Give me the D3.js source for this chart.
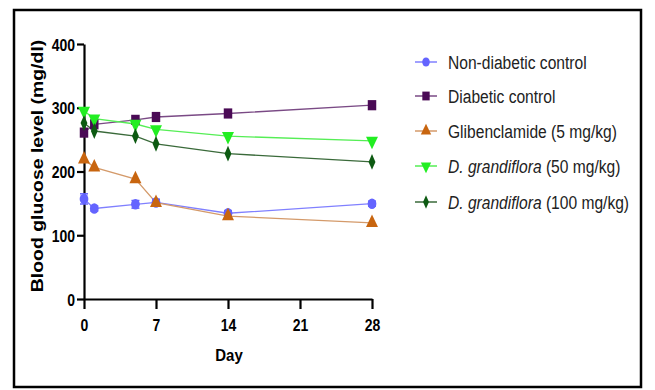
<!DOCTYPE html>
<html>
<head>
<meta charset="utf-8">
<script src="https://cdn.jsdelivr.net/npm/d3@7"></script>
<style>
  body { margin: 0; background: #fff; }
  svg text { font-family: "Liberation Sans", Arial, sans-serif; }
</style>
</head>
<body>
<div id="chart"></div>
<script>
var days = [0, 1, 5, 7, 14, 28];
var nonDiabetic = [157, 142, 148.5, 151.5, 134.5, 149.5];
var nonDiabeticErr = [8, 4, 6, 5, 4, 4];
var diabetic = [261, 274, 281, 285.5, 291, 304];
var glibenclamide = [219, 206.5, 188, 151, 130, 119.5];
var dg50 = [295, 283, 274.5, 266, 255.5, 248];
var dg100 = [276, 263.5, 255.5, 243.5, 228, 215];
var xTicks = [0, 7, 14, 21, 28];
var yTicks = [0, 100, 200, 300, 400];

var series = [
  {name: "Non-diabetic control", values: nonDiabetic, err: nonDiabeticErr, color: "#6464ff", line: "#8080ff", symbol: d3.symbolCircle, size: 60},
  {name: "Diabetic control", values: diabetic, color: "#4a0a55", line: "#7a4a85", symbol: d3.symbolSquare, size: 72},
  {name: "Glibenclamide (5 mg/kg)", values: glibenclamide, color: "#c8650f", line: "#d49a6a", symbol: d3.symbolTriangle, size: 62},
  {italic: "D. grandiflora", name: " (50 mg/kg)", values: dg50, color: "#22ee22", line: "#55ee55", symbol: d3.symbolTriangle, size: 62, flip: true},
  {italic: "D. grandiflora", name: " (100 mg/kg)", values: dg100, color: "#0d5a12", line: "#3a6a3a", symbol: d3.symbolDiamond, size: 50}
];

// the picture is stretched a little vertically, text and marks with it
var sy = 1.2;

function markTransform(s, px, py) {
  return "translate(" + px + "," + py + ") scale(1," + sy + ")" +
    (s.flip ? " rotate(180)" : "") +
    (s.symbol === d3.symbolDiamond ? " scale(0.9,1)" : "");
}

function init() {
  var W = 655, H = 390;
  var svg = d3.select("#chart").append("svg").attr("width", W).attr("height", H);

  svg.append("rect").attr("x", 14).attr("y", 10).attr("width", 627).attr("height", 377)
    .attr("fill", "none").attr("stroke", "#000").attr("stroke-width", 2.5);

  var x = d3.scaleLinear().domain([0, 28]).range([84, 372]);
  var y = d3.scaleLinear().domain([0, 400]).range([299, 44]);

  var xAxis = svg.append("g").attr("transform", "translate(0,299)")
    .call(d3.axisBottom(x).tickValues(xTicks).tickSize(10).tickSizeOuter(0));
  var yAxis = svg.append("g").attr("transform", "translate(84,0)")
    .call(d3.axisLeft(y).tickValues(yTicks).tickSize(7).tickSizeOuter(0));

  [xAxis, yAxis].forEach(function(a) {
    a.select(".domain").attr("stroke-width", 2.2);
    a.selectAll(".tick line").attr("stroke-width", 2.2);
    a.selectAll("text").attr("font-size", 14).attr("font-weight", "bold").attr("fill", "#000");
  });
  xAxis.selectAll(".tick text").attr("x", null).attr("y", null).attr("dy", null)
    .attr("transform", "translate(0,332) scale(1," + sy + ")").attr("transform", function() {
      return "translate(0,32) scale(1," + sy + ")";
    });
  yAxis.selectAll(".tick text").attr("x", null).attr("dy", null)
    .attr("transform", "translate(-9,6) scale(1," + sy + ")");

  svg.append("text").attr("transform", "translate(43,166) rotate(-90) scale(" + sy + ",1)")
    .attr("text-anchor", "middle").attr("font-size", 16.2).attr("font-weight", "bold").text("Blood glucose level (mg/dl)");
  svg.append("text").attr("transform", "translate(229,361) scale(1,1.15)")
    .attr("text-anchor", "middle").attr("font-size", 15).attr("font-weight", "bold").text("Day");

  var line = d3.line().x(function(d, i) { return x(days[i]); }).y(function(d) { return y(d); });

  series.forEach(function(s) {
    svg.append("path").datum(s.values).attr("d", line)
      .attr("fill", "none").attr("stroke", s.line).attr("stroke-width", 1.3);
  });

  series.forEach(function(s) {
    if (s.err) {
      var g = svg.append("g").attr("stroke", s.color).attr("stroke-width", 1.5);
      s.values.forEach(function(v, i) {
        g.append("line").attr("x1", x(days[i])).attr("x2", x(days[i]))
          .attr("y1", y(v - s.err[i])).attr("y2", y(v + s.err[i]));
        [-s.err[i], s.err[i]].forEach(function(e) {
          g.append("line").attr("x1", x(days[i]) - 4).attr("x2", x(days[i]) + 4)
            .attr("y1", y(v + e)).attr("y2", y(v + e));
        });
      });
    }
    var sym = d3.symbol().type(s.symbol).size(s.size);
    svg.append("g").selectAll("path").data(s.values).join("path")
      .attr("d", sym)
      .attr("transform", function(d, i) { return markTransform(s, x(days[i]), y(d)); })
      .attr("fill", s.color);
  });

  var legY = [62, 96, 131, 166, 202];
  series.forEach(function(s, i) {
    var g = svg.append("g").attr("transform", "translate(0," + legY[i] + ")");
    g.append("line").attr("x1", 415).attr("x2", 437).attr("stroke", s.line).attr("stroke-width", 1.5);
    g.append("path").attr("d", d3.symbol().type(s.symbol).size(s.size * 0.75))
      .attr("transform", markTransform(s, 426, 0))
      .attr("fill", s.color);
    var t = g.append("text").attr("transform", "translate(448,6.5) scale(1,1.18)")
      .attr("font-size", 15.6).attr("fill", "#222");
    if (s.italic) t.append("tspan").attr("font-style", "italic").text(s.italic);
    t.append("tspan").text(s.name);
  });
}
window.onload = init;
</script>
</body>
</html>
